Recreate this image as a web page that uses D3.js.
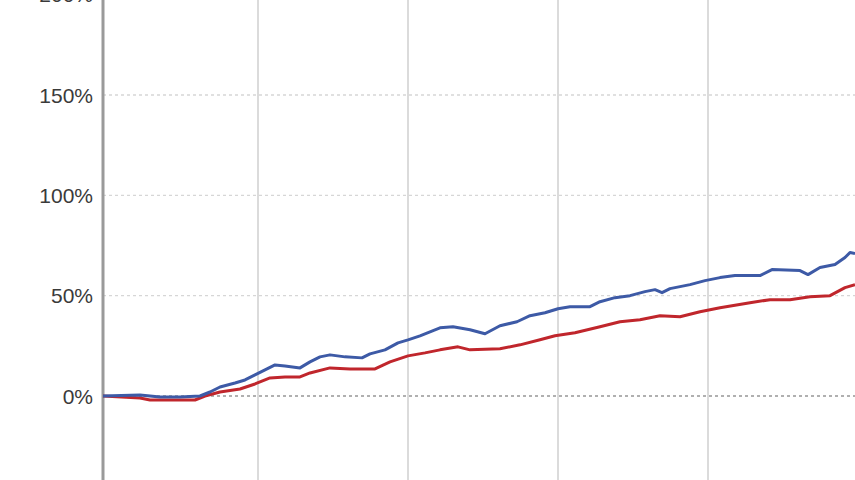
<!DOCTYPE html>
<html><head><meta charset="utf-8">
<script src="https://cdn.jsdelivr.net/npm/d3@7/dist/d3.min.js"></script>
<style>html,body{margin:0;padding:0;background:#fff;overflow:hidden}</style>
</head><body><svg id="c" width="855" height="480"></svg>
<script>
// Time positions (trading-day index) and percent-change series
const blueT = [0,37,47,57,77,97,107,117,132,142,152,162,172,182,197,207,217,227,242,259,267,282,295,305,317,337,350,367,382,397,414,427,442,455,467,487,497,512,527,542,552,559,567,587,602,617,632,657,669,697,705,717,732,742,747,752];
const blueV = [0,0.5,0,-0.5,-0.5,0,2,4.5,6.5,8,10.5,13,15.5,15,14,17,19.5,20.5,19.5,19,21,23,26.5,28,30,34,34.5,33,31,35,37,40,41.5,43.5,44.5,44.5,47,49,50,52,53,51.5,53.5,55.5,57.5,59,60,60,63,62.5,60.5,64,65.5,69,71.5,71];
const redT = [0,37,47,67,92,102,117,137,152,167,182,197,207,227,247,272,287,305,322,337,355,367,397,417,437,452,472,497,517,537,557,577,597,617,647,667,687,707,727,742,752];
const redV = [0,-1,-2,-2,-2,0,2,3.5,6,9,9.5,9.5,11.5,14,13.5,13.5,17,20,21.5,23,24.5,23,23.5,25.5,28,30,31.5,34.5,37,38,40,39.5,42,44,46.5,48,48,49.5,50,54,55.5];
const yTicks = [-50,0,50,100,150,200];
const xGridT = [155,305,455,605];

const svg = d3.select("#c");
const x = d3.scaleLinear().domain([0,752]).range([103,855]);
const y = d3.scaleLinear().domain([0,150]).range([396,95]);

// vertical grid lines
svg.append("g").selectAll("line").data(xGridT).join("line")
  .attr("x1",d=>x(d)).attr("x2",d=>x(d)).attr("y1",0).attr("y2",480)
  .attr("stroke","#cfcfcf").attr("stroke-width",1.5);

// horizontal dashed grid
svg.append("g").selectAll("line").data(yTicks).join("line")
  .attr("x1",103).attr("x2",855).attr("y1",d=>y(d)).attr("y2",d=>y(d))
  .attr("stroke",d=>d===0?"#b0b0b0":"#d6d6d6")
  .attr("stroke-width",d=>d===0?2:1.3)
  .attr("stroke-dasharray","3,3");

// left axis
svg.append("line").attr("x1",103).attr("x2",103).attr("y1",0).attr("y2",480)
  .attr("stroke","#9a9a9a").attr("stroke-width",3);

// labels
svg.append("g").selectAll("text").data(yTicks).join("text")
  .attr("x",93).attr("y",d=>y(d)).attr("dy","0.36em")
  .attr("text-anchor","end")
  .attr("font-family","Liberation Sans, Arial, sans-serif")
  .attr("font-size",21).attr("fill","#3a3a3a")
  .text(d=>d+"%");

const line = d3.line().x(d=>x(d[0])).y(d=>y(d[1]));
svg.append("path").datum(d3.zip(redT,redV)).attr("d",line)
  .attr("fill","none").attr("stroke","#c0262c").attr("stroke-width",3).attr("stroke-linejoin","round");
svg.append("path").datum(d3.zip(blueT,blueV)).attr("d",line)
  .attr("fill","none").attr("stroke","#3d5aa6").attr("stroke-width",3).attr("stroke-linejoin","round");
</script></body></html>
